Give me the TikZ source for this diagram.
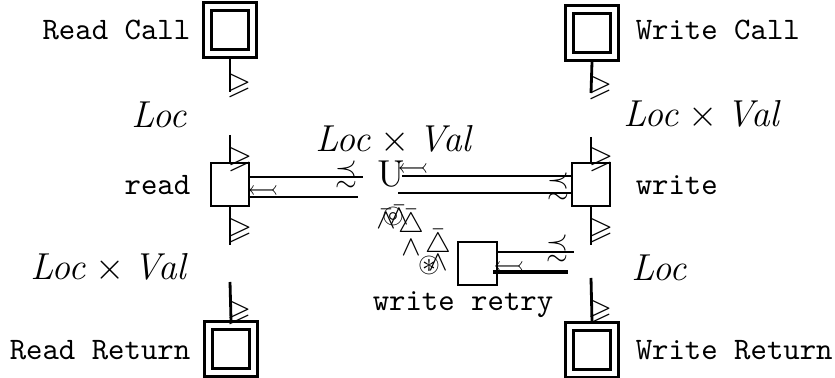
\documentclass[tikz,border=0pt]{standalone}
\usepackage{amsmath,amssymb}
\usetikzlibrary{positioning,calc}

\tikzset{
  outerbox/.style={draw, line width=1pt, minimum width=0.6cm, minimum height=0.62cm, inner sep=0pt},
  innerbox/.style={draw, line width=0.9pt, minimum width=0.42cm, minimum height=0.44cm, inner sep=0pt},
  procbox/.style={draw, line width=0.7pt, minimum width=0.43cm, minimum height=0.48cm, inner sep=0pt},
  lab/.style={font=\ttfamily, inner sep=1pt},
  typ/.style={font=\large, inner sep=1pt},
  wire/.style={line width=0.9pt},
  tick/.style={font=\normalsize, inner sep=0pt},
  junk/.style={font=\small, inner sep=0pt}
}

\begin{document}
\begin{tikzpicture}[x=0.01125cm, y=-0.01125cm]
  \useasboundingbox (0,0) rectangle (835,378);

  %--- Call / return boxes ---
  \node[outerbox] (rcall) at (230,30) {};
  \node[innerbox] (rcallin) at (rcall.center) {};
  \node[outerbox] (wcall) at (592,33) {};
  \node[innerbox] (wcallin) at (wcall.center) {};
  \node[outerbox] (rret) at (231,349) {};
  \node[innerbox] (rretin) at (rret.center) {};
  \node[outerbox] (wret) at (592,350) {};
  \node[innerbox] (wretin) at (wret.center) {};

  \node[lab, anchor=east] (rcalll) at (194,30) {Read Call};
  \node[lab, anchor=west] (wcalll) at (632,30) {Write Call};
  \node[lab, anchor=east] (rretl) at (194,350) {Read Return};
  \node[lab, anchor=west] (wretl) at (632,350) {Write Return};

  %--- Process boxes ---
  \node[procbox] (read) at (230,184.5) {};
  \node[procbox] (write) at (591,184.5) {};
  \node[procbox] (retry) at (477.5,263.5) {};
  \node[lab, anchor=east] (readl) at (194,185) {read};
  \node[lab, anchor=west] (writel) at (632,185) {write};
  \node[lab] (retryl) at (463,305) {write retry};

  %--- Types ---
  \node[typ] (t1) at (160,115) {$\mathit{Loc}$};
  \node[typ] (t2) at (703,115) {$\mathit{Loc}\times\mathit{Val}$};
  \node[typ] (t3) at (395,140) {$\mathit{Loc}\times\mathit{Val}$};
  \node[typ] (t4) at (110,268) {$\mathit{Loc}\times\mathit{Val}$};
  \node[typ] (t5) at (660,268) {$\mathit{Loc}$};

  % free ends of the broken wires
  \coordinate (l1) at (230,92);
  \coordinate (l2) at (230,135);
  \coordinate (l3) at (230,245);
  \coordinate (l4) at (230,282);
  \coordinate (r1) at (591,93);
  \coordinate (r2) at (591,137);
  \coordinate (r3) at (591,245);
  \coordinate (r4) at (591,278);
  \coordinate (h1) at (363,177);
  \coordinate (h2) at (358,197);
  \coordinate (h3) at (402,176);
  \coordinate (h4) at (398,193);
  \coordinate (h5) at (574,252);
  \coordinate (h6) at (493,272);
  \coordinate (h7) at (568,272);

  % vertical wires
  \draw[wire] (rcall.south) -- (l1);
  \draw[wire] (l2) -- (read.north);
  \draw[wire] (read.south) -- (l3);
  \draw[wire] (l4) -- (rret.north);
  \draw[wire] (wcall.south) -- (r1);
  \draw[wire] (r2) -- (write.north);
  \draw[wire] (write.south) -- (r3);
  \draw[wire] (r4) -- (wret.north);

  % horizontal wires
  \draw[wire] (read.east |- h1) -- (h1);
  \draw[wire] (read.east |- h2) -- (h2);
  \draw[wire] (h3) -- (write.west |- h3);
  \draw[wire] (h4) -- (write.west |- h4);
  \draw[wire] (retry.east |- h5) -- (h5);
  \draw[line width=1.3pt] (h6) -- (h7);

  % tips
  \node[tick] (k1) at (239,86) {$\geqslant$};
  \node[tick] (k2) at (240,160) {$\geqslant$};
  \node[tick] (k3) at (240,231) {$\geqslant$};
  \node[tick] (k4) at (239,313) {$\geqslant$};
  \node[tick] (k5) at (600,88) {$\geqslant$};
  \node[tick] (k6) at (601,160) {$\geqslant$};
  \node[tick] (k7) at (601,231) {$\geqslant$};
  \node[tick] (k8) at (600,312) {$\geqslant$};

  \node[junk] (p1) at (346,174) {$\precsim$};
  \node[junk] (p2) at (558,186) {$\precsim$};
  \node[junk] (p3) at (557,248) {$\precsim$};
  \node[junk] (a1) at (263,190) {$\leftarrowtail$};
  \node[junk] (a2) at (413,168) {$\leftarrowtail$};
  \node[junk] (a3) at (509,266) {$\leftarrowtail$};
  \node[inner sep=0pt, font=\large] (u1) at (391,174) {U};

  % loop marks
  \node[junk] (w1) at (386,219) {$\bar\wedge$};
  \node[junk] (c1) at (393,216) {$\circledcirc$};
  \node[junk] (w2) at (399,215) {$\bar\wedge$};
  \node[junk] (d1) at (411,224) {$\bar\triangle$};
  \node[junk] (w3) at (411,248) {$\wedge$};
  \node[junk] (d2) at (438,244) {$\bar\triangle$};
  \node[junk] (c2) at (429,265) {$\circledast$};
  \node[junk] (w4) at (438,263) {$\wedge$};
\end{tikzpicture}
\end{document}
